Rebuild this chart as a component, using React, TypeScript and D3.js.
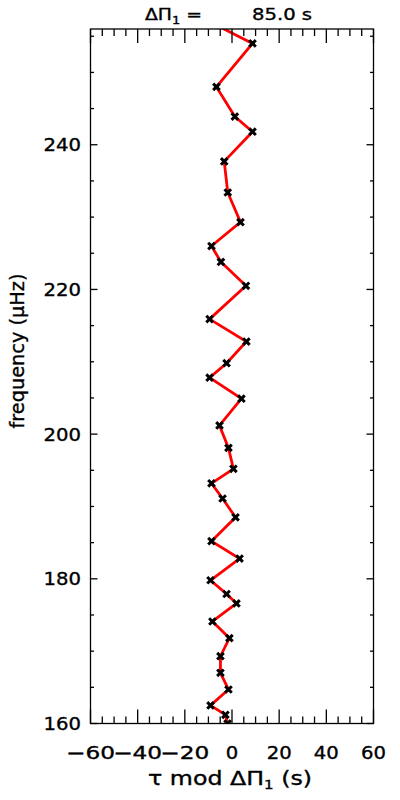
import React from "react";
import * as d3 from "d3";

// frequencies (μHz) and period residuals tau mod ΔΠ1 (s), bottom to top
const freq = [
  160.0, 161.2, 162.5, 164.7, 167.0, 169.3, 171.8, 174.1, 176.6, 177.9, 179.8,
  182.8, 185.2, 188.5, 191.1, 193.2, 195.2, 198.1, 201.2, 204.9, 207.8, 209.8,
  212.8, 215.9, 220.5, 223.8, 226.0, 229.3, 233.4, 237.7, 241.8, 243.9, 248.0,
  254.0, 257.5,
];
const tau = [
  -1.9, -2.8, -9.1, -1.5, -4.9, -4.9, -1.1, -8.3, 1.9, -2.3, -9.1, 3.2, -8.7,
  1.5, -4.0, -8.7, 0.6, -1.5, -5.3, 4.0, -9.5, -2.3, 6.1, -9.5, 5.9, -4.7, -8.7,
  3.6, -1.8, -3.3, 8.7, 1.2, -6.6, 8.7, -12.5,
];
const deltaPi = 85.0;

const xMajor = [-60, -40, -20, 0, 20, 40, 60];
const yMajor = [160, 180, 200, 220, 240];

const W = 400;
const H = 800;
const left = 90.5;
const right = 373.5;
const top = 29;
const bottom = 723.5;
const font = "'DejaVu Sans', sans-serif";

export default function App() {
  const x = d3.scaleLinear().domain([-60, 60]).range([left, right]);
  const y = d3.scaleLinear().domain([160, 256]).range([bottom, top]);

  const pts: [number, number][] = freq.map((f, i) => [tau[i], f]);
  const line = d3
    .line<[number, number]>()
    .x((d) => x(d[0]))
    .y((d) => y(d[1]));

  const xMinor = d3.range(-60, 60.01, 5).filter((v) => !xMajor.includes(v));
  const yMinor = d3.range(160, 256.01, 5).filter((v) => !yMajor.includes(v));

  const ticks: JSX.Element[] = [];
  xMajor.forEach((v) => {
    ticks.push(<line key={"xb" + v} x1={x(v)} x2={x(v)} y1={bottom} y2={bottom - 14} />);
    ticks.push(<line key={"xt" + v} x1={x(v)} x2={x(v)} y1={top} y2={top + 14} />);
  });
  xMinor.forEach((v) => {
    ticks.push(<line key={"xbm" + v} x1={x(v)} x2={x(v)} y1={bottom} y2={bottom - 7} />);
    ticks.push(<line key={"xtm" + v} x1={x(v)} x2={x(v)} y1={top} y2={top + 7} />);
  });
  yMajor.forEach((v) => {
    ticks.push(<line key={"yl" + v} x1={left} x2={left + 7} y1={y(v)} y2={y(v)} />);
    ticks.push(<line key={"yr" + v} x1={right} x2={right - 7} y1={y(v)} y2={y(v)} />);
  });
  yMinor.forEach((v) => {
    ticks.push(<line key={"ylm" + v} x1={left} x2={left + 3.5} y1={y(v)} y2={y(v)} />);
    ticks.push(<line key={"yrm" + v} x1={right} x2={right - 3.5} y1={y(v)} y2={y(v)} />);
  });

  const lblLen = (s: string) =>
    s.split("").reduce((a, c) => a + (c === "\u2212" ? 24 : 12.5), 0);

  return (
    <svg
      width={W}
      height={H}
      style={{ position: "absolute", left: 0, top: 0, background: "#fff" }}
      fontFamily={font}
    >
      <defs>
        <clipPath id="plot">
          <rect x={left} y={top} width={right - left} height={bottom - top} />
        </clipPath>
      </defs>
      <rect width={W} height={H} fill="#fff" />

      <g clipPath="url(#plot)">
        <path d={line(pts) ?? ""} fill="none" stroke="#ff0000" strokeWidth={2.8} />
        {pts.map((d, i) => {
          const cx = x(d[0]);
          const cy = y(d[1]);
          const s = 3.3;
          return (
            <path
              key={i}
              d={`M${cx - s},${cy - s}L${cx + s},${cy + s}M${cx - s},${cy + s}L${cx + s},${cy - s}`}
              stroke="#000"
              strokeWidth={3}
            />
          );
        })}
      </g>

      <rect
        x={left}
        y={top}
        width={right - left}
        height={bottom - top}
        fill="none"
        stroke="#000"
        strokeWidth={1.3}
      />
      <g stroke="#000" strokeWidth={1.3}>
        {ticks}
      </g>

      <g stroke="#000" strokeWidth={0.35}>
        {xMajor.map((v) => {
          const s = v < 0 ? "\u2212" + Math.abs(v) : String(v);
          return (
            <text
              key={"xl" + v}
              x={x(v)}
              y={758.5}
              textAnchor="middle"
              fontSize={17.5}
              textLength={lblLen(s)}
              lengthAdjust="spacingAndGlyphs"
            >
              {s}
            </text>
          );
        })}
        {yMajor.map((v) => (
          <text
            key={"yl" + v}
            x={81}
            y={y(v) + 6.5}
            textAnchor="end"
            fontSize={17.5}
            textLength={lblLen(String(v))}
            lengthAdjust="spacingAndGlyphs"
          >
            {v}
          </text>
        ))}

        <text x={145} y={20} fontSize={16} textLength={57} lengthAdjust="spacingAndGlyphs">
          ΔΠ<tspan fontSize={11} dy={4}>1</tspan>
          <tspan dy={-4}> =</tspan>
        </text>
        <text x={312} y={20} fontSize={16} textAnchor="end" textLength={60} lengthAdjust="spacingAndGlyphs">
          {deltaPi.toFixed(1)} s
        </text>

        <text x={230} y={785} fontSize={19} textAnchor="middle" textLength={164} lengthAdjust="spacingAndGlyphs">
          τ mod ΔΠ<tspan fontSize={12} dy={4}>1</tspan>
          <tspan dy={-4}> (s)</tspan>
        </text>

        <text
          transform="translate(24,351) rotate(-90)"
          fontSize={20}
          textAnchor="middle"
          textLength={155}
          lengthAdjust="spacingAndGlyphs"
        >
          frequency (μHz)
        </text>
      </g>
    </svg>
  );
}
